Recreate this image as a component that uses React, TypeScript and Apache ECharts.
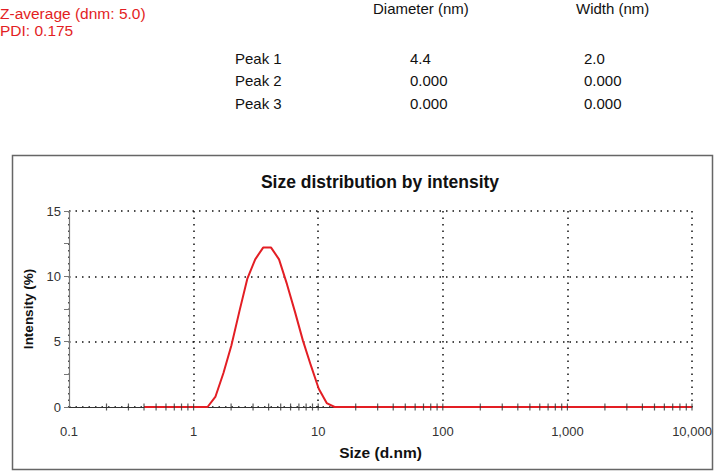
import React, { useEffect, useRef } from "react";
import * as echarts from "echarts";

// Size bins (d.nm) and intensity (%)
const sizes = [
  0.4, 0.4632, 0.5365, 0.6213, 0.7195, 0.8332, 0.9649, 1.117, 1.294, 1.499,
  1.736, 2.01, 2.328, 2.696, 3.122, 3.615, 4.187, 4.849, 5.615, 6.503,
  7.531, 8.721, 10.1, 11.7, 13.54, 15.69, 18.17, 21.04, 24.36, 28.21,
  32.67, 37.84, 43.82, 50.75, 58.77, 68.06, 78.82, 91.28, 105.7, 122.4,
  141.8, 164.2, 190.1, 220.2, 255.0, 295.3, 342.0, 396.1, 458.7, 531.2,
  615.1, 712.4, 825.0, 955.4, 1106, 1281, 1484, 1718, 1990, 2305,
  2669, 3091, 3580, 4145, 4801, 5560, 6439, 7456, 8635, 10000,
];
const intensity = [
  0, 0, 0, 0, 0, 0, 0, 0, 0, 0.8,
  2.6, 4.7, 7.3, 9.8, 11.3, 12.2, 12.2, 11.3, 9.4, 7.3,
  5.1, 3.2, 1.4, 0.3, 0, 0, 0, 0, 0, 0,
  0, 0, 0, 0, 0, 0, 0, 0, 0, 0,
  0, 0, 0, 0, 0, 0, 0, 0, 0, 0,
  0, 0, 0, 0, 0, 0, 0, 0, 0, 0,
  0, 0, 0, 0, 0, 0, 0, 0, 0, 0,
];

// x axis tick marks (crossing the axis line)
const xTickMarks = [
  0.2, 0.3, 0.4, 0.5, 0.6, 0.7, 0.8, 0.9,
  1, 2, 3, 4, 5, 6, 7, 8, 9,
  10, 20, 30, 40, 50, 60, 70, 80, 90,
  100, 200, 300, 400, 500, 600, 700, 800, 900,
  1000, 2000, 3000, 4000, 5000, 6000, 7000, 8000, 9000, 10000,
];
const xTickValues = [0.1, 1, 10, 100, 1000, 10000];
const xTickLabels = ["0.1", "1", "10", "100", "1,000", "10,000"];

// Header texts and results table
const summaryLines = ["Z-average (dnm: 5.0)", "PDI: 0.175"];
const tableHeaders = ["Diameter (nm)", "Width (nm)"];
const peakNames = ["Peak 1", "Peak 2", "Peak 3"];
const peakDiameters = ["4.4", "0.000", "0.000"];
const peakWidths = ["2.0", "0.000", "0.000"];

const FONT = "'Liberation Sans', Arial, sans-serif";
const RED = "#e31e24";

export default function App() {
  const ref = useRef<HTMLDivElement>(null);

  useEffect(() => {
    if (!ref.current) return;
    const chart = echarts.init(ref.current, undefined, { renderer: "svg" });

    const rowY = [58, 80, 103];
    const graphics: any[] = [
      {
        type: "rect",
        shape: { x: 12.5, y: 155.5, width: 700, height: 314 },
        style: { fill: "none", stroke: "#666", lineWidth: 1.5 },
        z: 0,
      },
      {
        type: "text",
        x: 380,
        y: 182,
        style: {
          text: "Size distribution by intensity",
          font: `bold 17.5px ${FONT}`,
          fill: "#111",
          textAlign: "center",
          textVerticalAlign: "middle",
        },
      },
    ];
    summaryLines.forEach((t, i) => {
      graphics.push({
        type: "text",
        x: 0,
        y: 13 + i * 17,
        style: {
          text: t,
          font: `15.5px ${FONT}`,
          fill: RED,
          textAlign: "left",
          textVerticalAlign: "middle",
        },
      });
    });
    const headerX = [373, 576];
    tableHeaders.forEach((t, i) => {
      graphics.push({
        type: "text",
        x: headerX[i],
        y: 8,
        style: {
          text: t,
          font: `15px ${FONT}`,
          fill: "#111",
          textAlign: "left",
          textVerticalAlign: "middle",
        },
      });
    });
    peakNames.forEach((p, i) => {
      const cells = [
        [235, p],
        [410, peakDiameters[i]],
        [584, peakWidths[i]],
      ];
      cells.forEach(([x, t]) => {
        graphics.push({
          type: "text",
          x: x as number,
          y: rowY[i],
          style: {
            text: t as string,
            font: `15px ${FONT}`,
            fill: "#111",
            textAlign: "left",
            textVerticalAlign: "middle",
          },
        });
      });
    });

    chart.setOption({
      animation: false,
      backgroundColor: "#fff",
      textStyle: { fontFamily: FONT },
      graphic: graphics,
      grid: { left: 69, right: 23, top: 211, bottom: 65, containLabel: false },
      xAxis: {
        type: "log",
        logBase: 10,
        min: 0.1,
        max: 10000,
        name: "Size (d.nm)",
        nameLocation: "middle",
        nameGap: 37,
        nameTextStyle: { fontWeight: "bold", fontSize: 15.5, color: "#111", fontFamily: FONT },
        axisLine: { show: true, lineStyle: { color: "#333", width: 1 } },
        axisTick: { show: false },
        axisLabel: {
          margin: 18,
          fontSize: 13,
          color: "#333",
          fontFamily: FONT,
          formatter: (v: number) => {
            let best = 0;
            let bd = Infinity;
            xTickValues.forEach((tv, i) => {
              const d = Math.abs(Math.log10(tv) - Math.log10(v));
              if (d < bd) {
                bd = d;
                best = i;
              }
            });
            return xTickLabels[best];
          },
        },
        splitLine: {
          show: true,
          lineStyle: { color: "#111", width: 1.5, type: [1.5, 5] },
        },
      },
      yAxis: {
        type: "value",
        min: 0,
        max: 15,
        interval: 5,
        name: "Intensity (%)",
        nameLocation: "middle",
        nameGap: 27,
        nameTextStyle: { fontWeight: "bold", fontSize: 13.5, color: "#111", fontFamily: FONT },
        axisLine: { show: true, lineStyle: { color: "#777", width: 1.2 } },
        axisTick: { show: true, length: 5, lineStyle: { color: "#777" } },
        minorTick: { show: true, splitNumber: 2, length: 5, lineStyle: { color: "#777" } },
        axisLabel: { margin: 8, fontSize: 13, color: "#333", fontFamily: FONT },
        splitLine: {
          show: true,
          lineStyle: { color: "#111", width: 1.5, type: [1.5, 5] },
        },
      },
      series: [
        {
          type: "line",
          data: sizes.map((s, i) => [s, intensity[i]]),
          showSymbol: false,
          lineStyle: { color: RED, width: 2 },
          itemStyle: { color: RED },
          z: 3,
        },
        {
          type: "scatter",
          data: xTickMarks.map((t) => [t, 0]),
          symbol: "rect",
          symbolSize: [1.2, 7],
          itemStyle: { color: "#333" },
          silent: true,
          z: 4,
        },
      ],
    });

    return () => chart.dispose();
  }, []);

  return (
    <div
      ref={ref}
      style={{ position: "fixed", left: 0, top: 0, width: 715, height: 472 }}
    />
  );
}
